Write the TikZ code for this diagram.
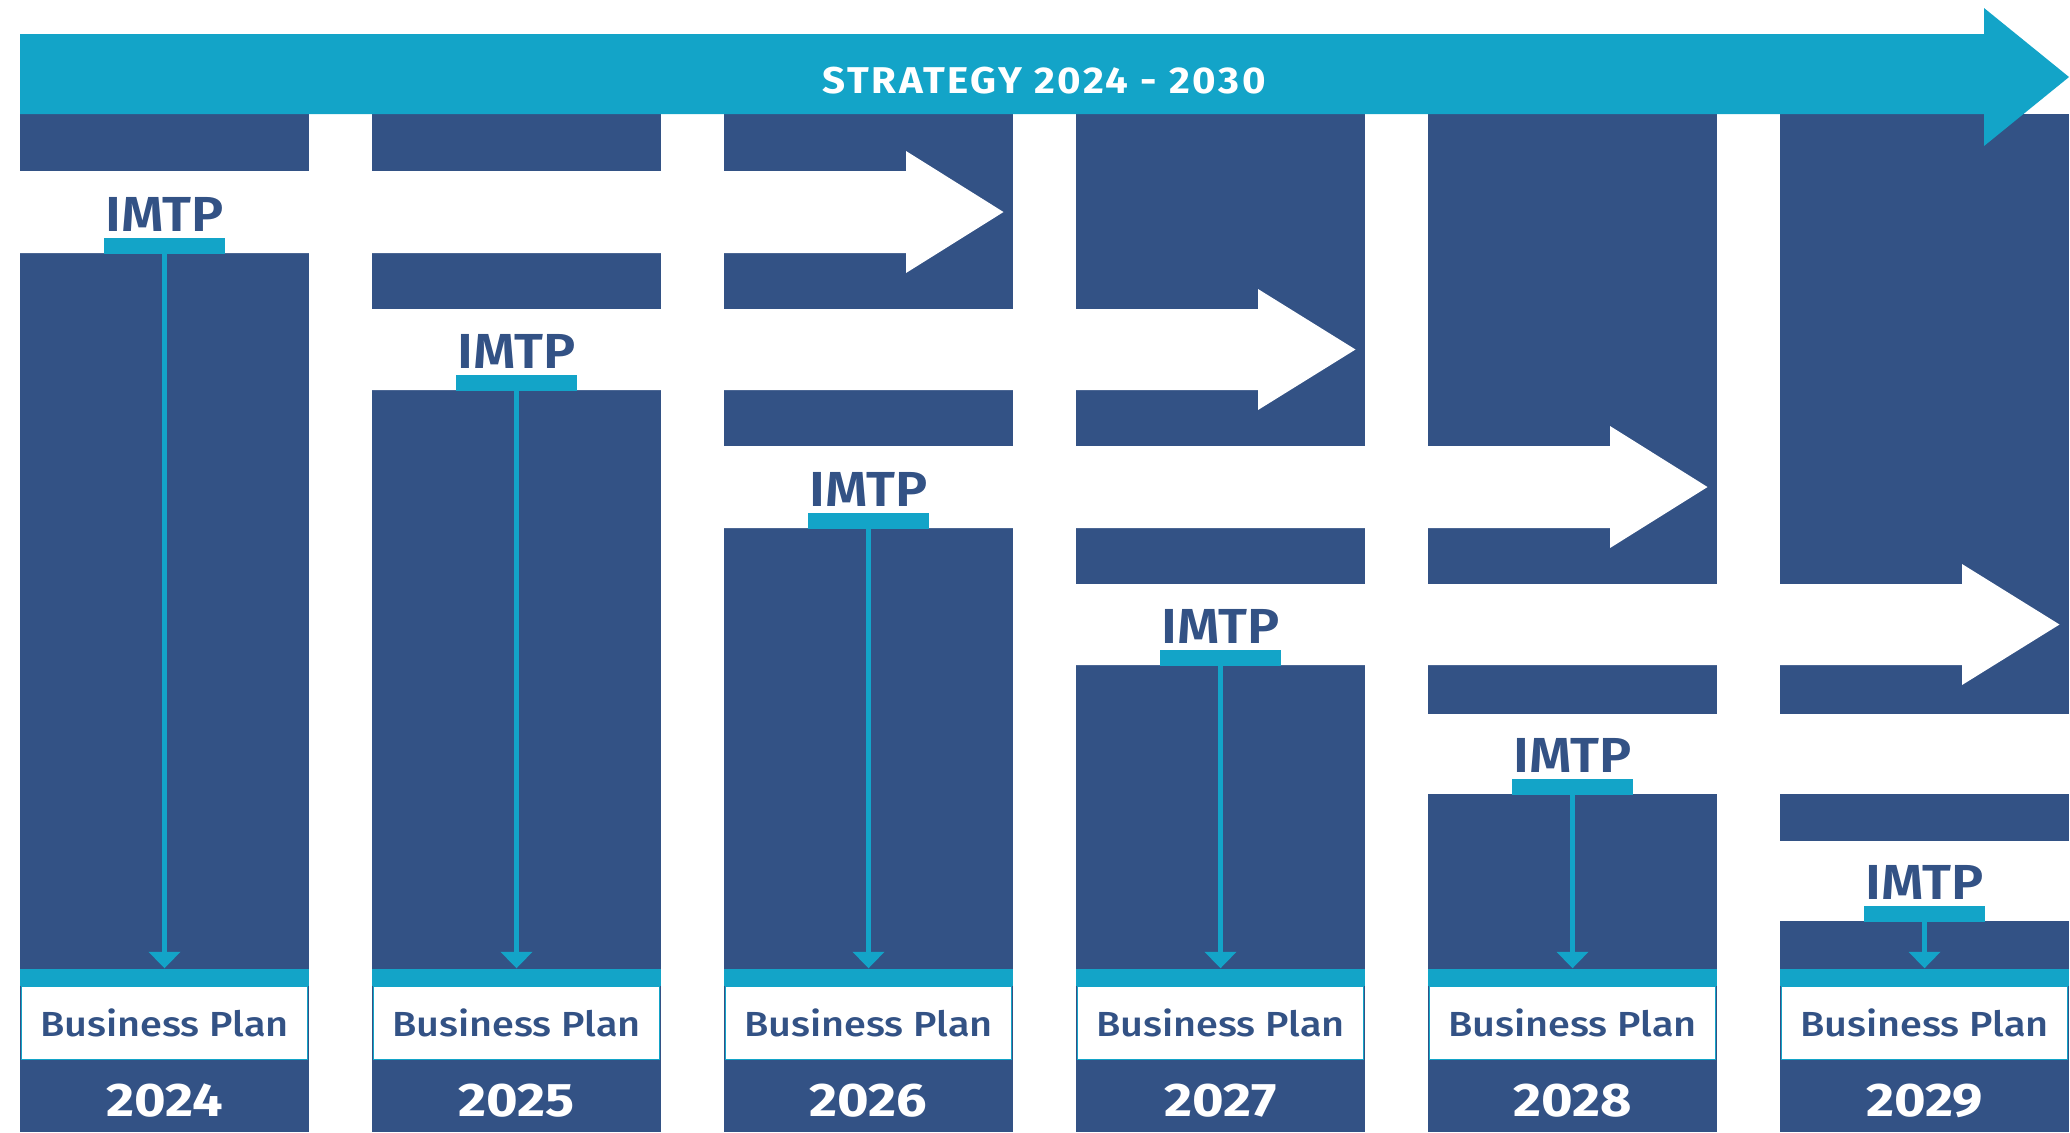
\documentclass[tikz,border=0pt]{standalone}
\usepackage{fontspec}
\setmainfont{Fira Sans}
\newfontfamily\fmed[FakeStretch=1.14]{Fira Sans Medium}
\newfontfamily\fsemi[FakeStretch=1.1]{Fira Sans SemiBold}
\newfontfamily\fwide[FakeStretch=1.15]{Fira Sans}
\newfontfamily\ftitle[FakeStretch=1.08,LetterSpace=7]{Fira Sans}
\usetikzlibrary{arrows.meta}
\definecolor{navy}{RGB}{51,82,133}
\definecolor{stcyan}{RGB}{19,164,200}
\tikzset{
  imtpbar/.style={fill=stcyan, inner sep=0pt, minimum width=1.21cm, minimum height=0.155cm},
  imtptext/.style={text=navy, inner sep=0pt, anchor=base, font=\fsemi\fontsize{14}{16}\selectfont},
  bpstrip/.style={fill=stcyan, inner sep=0pt, minimum width=2.89cm, minimum height=0.17cm},
  bpbox/.style={fill=white, draw=stcyan, line width=0.4pt, inner sep=0pt, minimum width=2.86cm, minimum height=0.73cm, text=navy, font=\fmed\fontsize{9.9}{12}\selectfont},
  yeartext/.style={text=white, inner sep=0pt, font=\fwide\bfseries\fontsize{13.4}{15}\selectfont},
  conn/.style={draw=stcyan, line width=0.045cm, -{Triangle[width=0.31cm,length=0.165cm]}},
  titletext/.style={text=white, inner sep=0pt, font=\ftitle\bfseries\fontsize{10.6}{13}\selectfont}
}
\begin{document}
\begin{tikzpicture}[x=0.01cm,y=-0.01cm]
\useasboundingbox (0,0) rectangle (2070,1132);
% dark columns
\foreach \c in {0,...,5} {
  \fill[navy] (20+352*\c,114) rectangle ++(289,1018);
}
% white arrows with heads
\foreach \c/\t/\b in {0/171/253, 1/309/390, 2/446/528, 3/584/665} {
  \pgfmathsetmacro\xs{20+352*\c}
  \pgfmathsetmacro\hs{\xs+704+182}
  \pgfmathsetmacro\tip{\xs+704+279.5}
  \pgfmathsetmacro\mid{(\t+\b)/2}
  \fill[white] (\xs,\t) -- (\hs,\t) -- (\hs,\t-20) -- (\tip,\mid) -- (\hs,\b+20) -- (\hs,\b) -- (\xs,\b) -- cycle;
}
% white bands running off the right edge
\fill[white] (1428,714) rectangle (2070,794);
\fill[white] (1780,841) rectangle (2070,921);
% strategy arrow
\fill[stcyan] (20,34) -- (1984,34) -- (1984,8) -- (2069,77) -- (1984,146) -- (1984,114) -- (20,114) -- cycle;
\node[titletext] (title) at (1044,80.5) {STRATEGY 2024 - 2030};
% per-year elements
\foreach \c/\b/\yr in {0/253/2024, 1/390/2025, 2/528/2026, 3/665/2027, 4/794/2028, 5/921/2029} {
  \pgfmathsetmacro\xc{20+352*\c+144.5}
  \node[imtpbar] (bar\c) at (\xc,\b-7.25) {};
  \node[imtptext] (imtp\c) at (\xc,\b-22) {IMTP};
  \node[bpstrip] (strip\c) at (\xc,977.5) {};
  \node[bpbox] (bp\c) at (\xc,1023) {Business Plan};
  \node[yeartext] (year\c) at (\xc,1100.5) {\yr};
  \draw[conn] (bar\c.south) -- (strip\c.north);
}
\end{tikzpicture}
\end{document}
